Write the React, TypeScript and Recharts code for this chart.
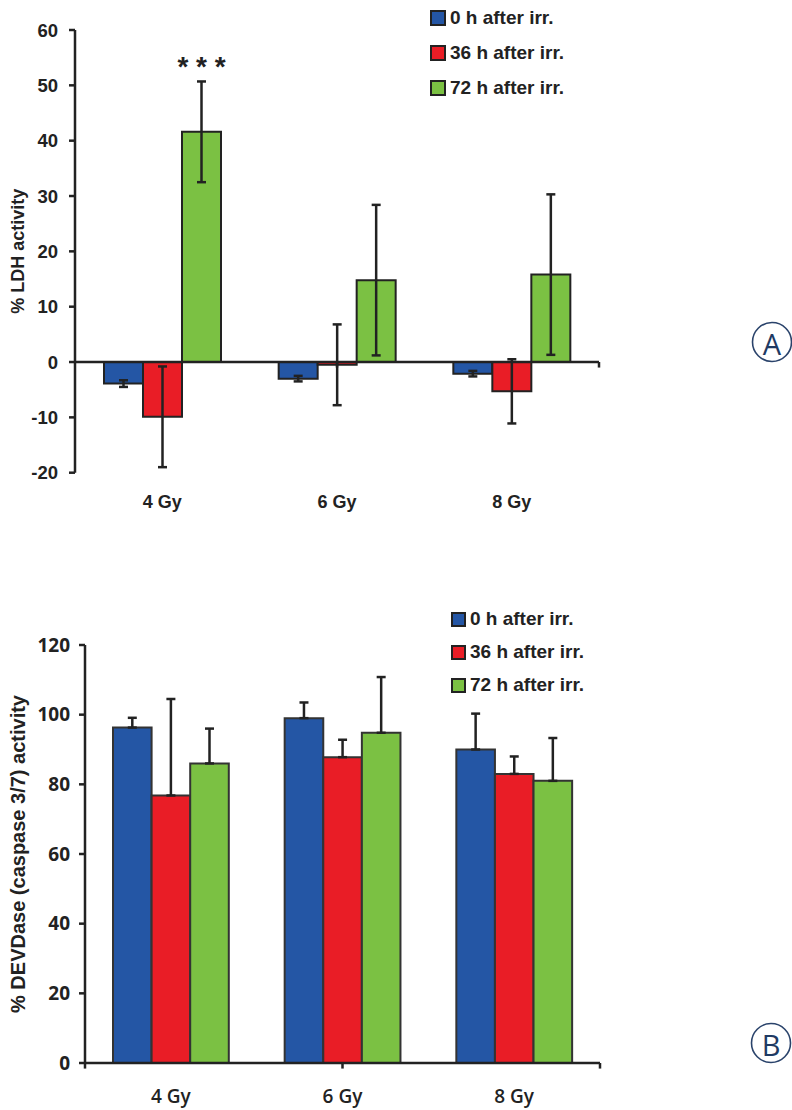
import React from "react";
import {
  Bar,
  BarChart,
  ErrorBar,
  LabelList,
  ReferenceLine,
  XAxis,
  YAxis,
} from "recharts";

const doses = ["4 Gy", "6 Gy", "8 Gy"];
const seriesNames = ["0 h after irr.", "36 h after irr.", "72 h after irr."];
const seriesColors = ["#2456a5", "#e91d26", "#7bc143"];

// panel A: % LDH activity
const ldh0h = [-3.9, -3.0, -2.1];
const ldh0hErr = [0.6, 0.5, 0.5];
const ldh36h = [-9.9, -0.5, -5.3];
const ldh36hErr = [9.1, 7.3, 5.8];
const ldh72h = [41.6, 14.8, 15.8];
const ldh72hErr = [9.1, 13.6, 14.5];
const ldhMarks = ["* * *", "", ""];
const ldhTicks = [-20, -10, 0, 10, 20, 30, 40, 50, 60];

// panel B: % DEVDase activity (error drawn upwards only)
const dev0h = [96.3, 99.0, 90.0];
const dev0hErr = [2.8, 4.5, 10.3];
const dev36h = [76.8, 87.8, 83.0];
const dev36hErr = [27.7, 5.0, 5.0];
const dev72h = [86.0, 94.8, 81.0];
const dev72hErr = [10.0, 16.0, 12.3];
const devTicks = [0, 20, 40, 60, 80, 100, 120];

// category band edges on a 0..3 helper axis, used for the x tick marks
const bandEdges = [1, 2, 3];

const ldhData = doses.map((dose, i) => ({
  dose,
  s0: ldh0h[i],
  e0: ldh0hErr[i],
  s1: ldh36h[i],
  e1: ldh36hErr[i],
  s2: ldh72h[i],
  e2: ldh72hErr[i],
  mark: ldhMarks[i],
}));

const devData = doses.map((dose, i) => ({
  dose,
  s0: dev0h[i],
  e0: [0, dev0hErr[i]],
  s1: dev36h[i],
  e1: [0, dev36hErr[i]],
  s2: dev72h[i],
  e2: [0, dev72hErr[i]],
}));

const ARIAL = '"Liberation Sans", Arial, sans-serif';
const OPEN = '"Open Sans", sans-serif';
const INK = "#222";

type TitleProps = {
  viewBox?: { x: number; y: number; width: number; height: number };
  value: string;
  cx: number;
  fontSize: number;
};

function AxisTitle({ viewBox, value, cx, fontSize }: TitleProps) {
  if (!viewBox) return null;
  const cy = viewBox.y + viewBox.height / 2;
  return (
    <text
      x={cx}
      y={cy}
      transform={`rotate(-90, ${cx}, ${cy})`}
      textAnchor="middle"
      dominantBaseline="central"
      fill={INK}
      style={{ fontFamily: ARIAL, fontWeight: 700, fontSize }}
    >
      {value}
    </text>
  );
}

function StarLabel(props: any) {
  const { x, y, width, value } = props;
  if (!value) return null;
  return (
    <text
      x={x + width / 2}
      y={y - 56}
      textAnchor="middle"
      fill={INK}
      style={{ fontFamily: ARIAL, fontWeight: 700, fontSize: 28 }}
    >
      {value}
    </text>
  );
}

function SeriesLegend({ left, top, row, box }: { left: number; top: number; row: number; box: number }) {
  return (
    <div style={{ position: "absolute", left, top }}>
      {seriesNames.map((name, i) => (
        <div key={name} style={{ display: "flex", alignItems: "center", height: row }}>
          <span
            style={{
              width: box,
              height: box,
              boxSizing: "border-box",
              border: `2px solid ${INK}`,
              background: seriesColors[i],
              marginRight: 4,
            }}
          />
          <span style={{ fontFamily: ARIAL, fontWeight: 700, fontSize: 19, color: INK }}>{name}</span>
        </div>
      ))}
    </div>
  );
}

function PanelTag({ letter, cx, cy }: { letter: string; cx: number; cy: number }) {
  return (
    <svg
      width={44}
      height={44}
      style={{ position: "absolute", left: cx - 22, top: cy - 22 }}
    >
      <circle cx={22} cy={22} r={19.5} fill="none" stroke="#2a436b" strokeWidth={1.6} />
      <text
        x={22}
        y={23}
        textAnchor="middle"
        dominantBaseline="central"
        fill="#1f3a63"
        style={{ fontFamily: OPEN, fontWeight: 400, fontSize: 29 }}
      >
        {letter}
      </text>
    </svg>
  );
}

function LdhChart() {
  return (
    <BarChart
      width={620}
      height={530}
      data={ldhData}
      margin={{ top: 30, right: 21, bottom: 0, left: 0 }}
      barGap={0}
      barSize={39}
    >
      <XAxis
        dataKey="dose"
        axisLine={false}
        tickLine={false}
        height={57.3}
        tickMargin={17}
        interval={0}
        tick={{ fill: INK, fontSize: 18, fontWeight: 700, fontFamily: ARIAL }}
      />
      <XAxis xAxisId="edge" type="number" domain={[0, 3]} hide />
      <YAxis
        domain={[-20, 60]}
        ticks={ldhTicks}
        interval={0}
        width={75}
        axisLine={{ stroke: INK, strokeWidth: 2.5 }}
        tickLine={{ stroke: INK, strokeWidth: 2.5 }}
        tickSize={6}
        tickMargin={11}
        tick={{ fill: INK, fontSize: 18.5, fontWeight: 700, fontFamily: ARIAL }}
        label={<AxisTitle value="% LDH activity" cx={18} fontSize={18} />}
      />
      <Bar dataKey="s0" fill={seriesColors[0]} stroke={INK} strokeWidth={2} isAnimationActive={false}>
        <ErrorBar dataKey="e0" width={4.5} stroke={INK} strokeWidth={2.5} />
      </Bar>
      <Bar dataKey="s1" fill={seriesColors[1]} stroke={INK} strokeWidth={2} isAnimationActive={false}>
        <ErrorBar dataKey="e1" width={4.5} stroke={INK} strokeWidth={2.5} />
      </Bar>
      <Bar dataKey="s2" fill={seriesColors[2]} stroke={INK} strokeWidth={2} isAnimationActive={false}>
        <ErrorBar dataKey="e2" width={4.5} stroke={INK} strokeWidth={2.5} />
        <LabelList dataKey="mark" content={<StarLabel />} />
      </Bar>
      <ReferenceLine y={0} stroke={INK} strokeWidth={2.5} />
      {bandEdges.map((edge) => (
        <ReferenceLine
          key={edge}
          xAxisId="edge"
          segment={[
            { x: edge, y: 0 },
            { x: edge, y: -1 },
          ]}
          stroke={INK}
          strokeWidth={2.5}
        />
      ))}
    </BarChart>
  );
}

function DevChart() {
  return (
    <BarChart
      width={620}
      height={510}
      data={devData}
      margin={{ top: 45, right: 20, bottom: 0, left: 0 }}
      barGap={0}
      barSize={38.6}
    >
      <XAxis
        dataKey="dose"
        axisLine={{ stroke: INK, strokeWidth: 2.5 }}
        tickLine={false}
        height={47}
        tickMargin={21}
        interval={0}
        tick={{ fill: INK, fontSize: 19, fontWeight: 600, fontFamily: OPEN }}
      />
      <XAxis xAxisId="edge" type="number" domain={[0, 3]} hide />
      <YAxis
        domain={[0, 120]}
        ticks={devTicks}
        interval={0}
        width={85}
        axisLine={{ stroke: INK, strokeWidth: 2.5 }}
        tickLine={{ stroke: INK, strokeWidth: 2.5 }}
        tickSize={6}
        tickMargin={9}
        tick={{ fill: INK, fontSize: 19, fontWeight: 700, fontFamily: OPEN }}
        label={<AxisTitle value="% DEVDase (caspase 3/7) activity" cx={18} fontSize={20} />}
      />
      <Bar dataKey="s0" fill={seriesColors[0]} stroke="#333" strokeWidth={2} isAnimationActive={false}>
        <ErrorBar dataKey="e0" width={4.5} stroke={INK} strokeWidth={2.5} />
      </Bar>
      <Bar dataKey="s1" fill={seriesColors[1]} stroke="#333" strokeWidth={2} isAnimationActive={false}>
        <ErrorBar dataKey="e1" width={4.5} stroke={INK} strokeWidth={2.5} />
      </Bar>
      <Bar dataKey="s2" fill={seriesColors[2]} stroke="#333" strokeWidth={2} isAnimationActive={false}>
        <ErrorBar dataKey="e2" width={4.5} stroke={INK} strokeWidth={2.5} />
      </Bar>
      {[0, ...bandEdges].map((edge) => (
        <ReferenceLine
          key={edge}
          xAxisId="edge"
          ifOverflow="visible"
          segment={[
            { x: edge, y: 0 },
            { x: edge, y: -1.6 },
          ]}
          stroke={INK}
          strokeWidth={2.5}
        />
      ))}
    </BarChart>
  );
}

export default function App() {
  return (
    <div
      style={{
        position: "absolute",
        left: 0,
        top: 0,
        width: 792,
        height: 1110,
        background: "#fff",
        overflow: "hidden",
      }}
    >
      <div style={{ position: "absolute", left: 0, top: 0 }}>
        <LdhChart />
      </div>
      <div style={{ position: "absolute", left: 0, top: 600 }}>
        <DevChart />
      </div>
      <SeriesLegend left={430} top={0} row={35} box={16} />
      <SeriesLegend left={451} top={602.5} row={33} box={15} />
      <PanelTag letter="A" cx={772} cy={342} />
      <PanelTag letter="B" cx={771} cy={1043} />
    </div>
  );
}
